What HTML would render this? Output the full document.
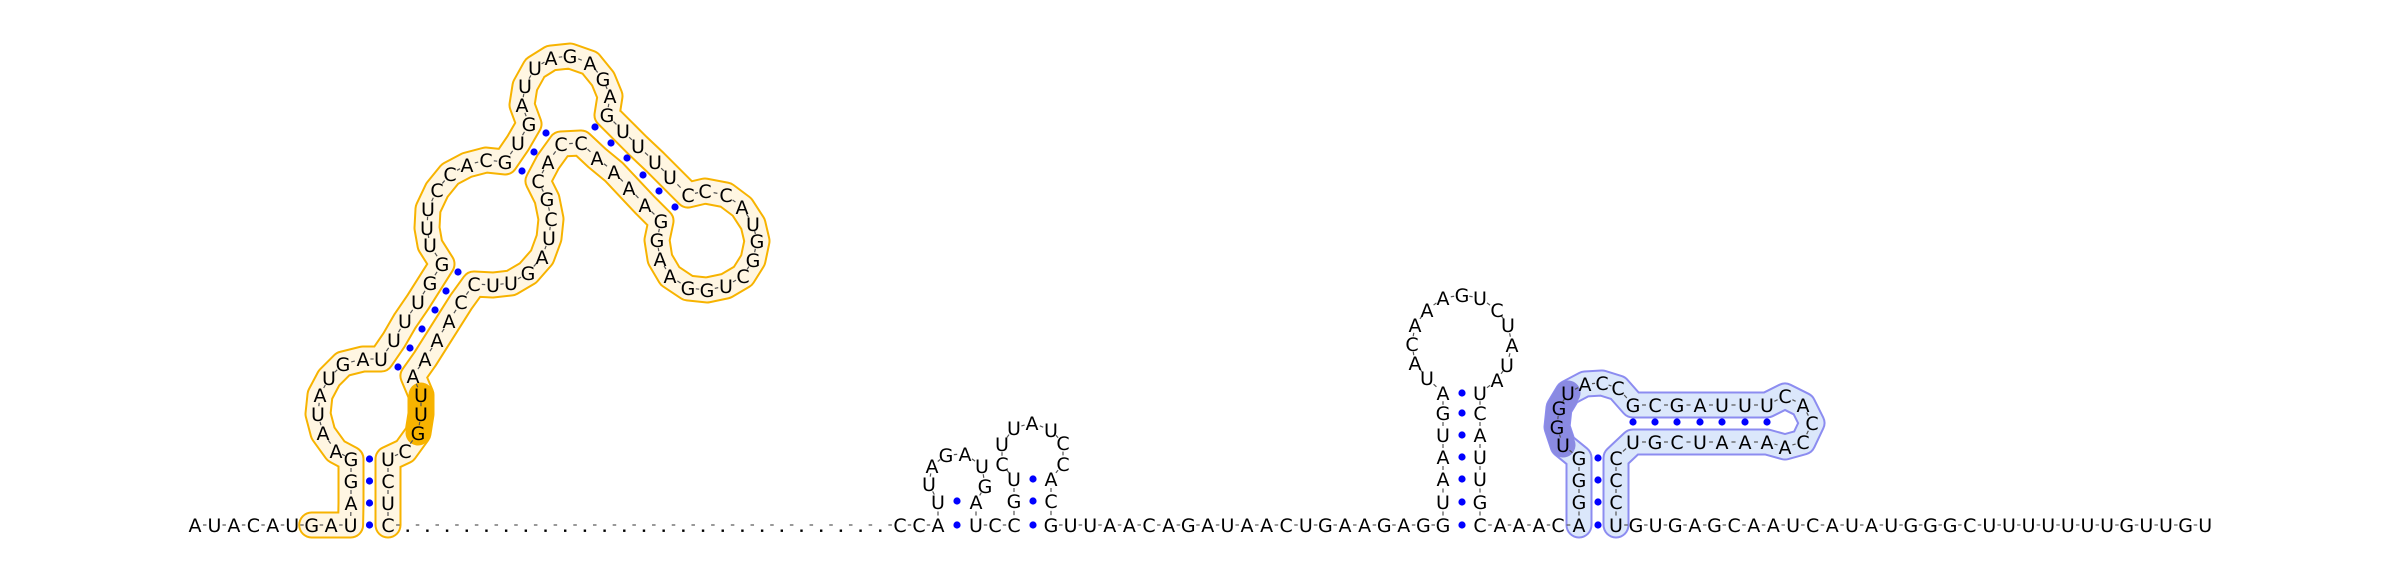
<!DOCTYPE html>
<html><head><meta charset="utf-8"><style>
html,body{margin:0;padding:0;background:#fff;}
svg{display:block;}
text{font-family:"DejaVu Sans","Liberation Sans",sans-serif;font-size:19px;fill:#000;}
</style></head><body>
<svg id="rna" width="2400" height="580" viewBox="0 0 2400 580" xmlns="http://www.w3.org/2000/svg">
<g id="tubes"></g>
<g id="backbone"></g>
<g id="pairs"></g>
<g id="bases"></g>
</svg>
<script>
const nts = [];
function add(c,x,y,t){ nts.push([c,x,y,t||'']); }
"AUACAUGAU".split('').forEach((c,i)=>add(c,195+19.45*i,525,i>=6?'o':''));
[['A',351,503],['G',351,481],['G',351,459],
 ['A',336,451],['A',323,433],['U',318,414],['A',320,395],['U',329,378],['G',343,364],['A',363,359],['U',381,359],
 ['U',394,340],['U',405,321],['U',418,302],['G',430,283],['G',442,264],
 ['U',430,245],['U',427,228],['U',428,209],['C',437,190],['C',450,174],['A',467,165],['C',486,160],
 ['G',505,162],['U',518,143],['G',529,124],
 ['A',522,105],['U',525,86],['U',535,68],['A',551,58],['G',570,56],['A',590,63],['G',603,79],['A',610,96],
 ['G',607,115],['U',623,131],['U',638,146],['U',655,162],['U',670,177],['C',688,195],
 ['C',705,191],['C',726,195],['A',742,207],['U',753,224],['G',757,241],['G',753,260],['C',743,276],['U',726,286],['G',707,290],['G',688,288],['A',670,276],['A',660,259],['G',657,240],
 ['G',661,221],['A',645,205],['A',629,188],['A',614,172],['A',597,158],['C',581,143],
 ['C',561,144],['A',548,162],['C',538,181],
 ['G',547,199],['C',551,219],['U',549,238],['A',542,257],['G',528,273],['U',511,283],['U',493,285],
 ['C',474,284],['C',461,302],['A',449,321],['A',437,340],['A',425,359],['A',413,376],
 ['U',421,395],['U',421,414],['G',418,433],['C',405,451],
 ['U',388,459],['C',388,481],['U',388,503],['C',388,525]].forEach(a=>add(a[0],a[1],a[2],'o'));
for(let k=1;k<=25;k++) add('.',388+19.69*k,525,'');
[['C',900,525],['C',919,525],['A',938,525],
 ['U',938,502],['U',929,484],['A',932,466],['G',946,455],['A',965,454],['U',982,466],['G',985,486],['A',976,502],
 ['U',976,525],['C',995,525],['C',1014,525],
 ['G',1014,501],['U',1014,479],['C',1002,464],['U',1002,444],['U',1014,428],['A',1032,423],['U',1051,430],['C',1063,443],['C',1063,464],['A',1051,479],['C',1051,501]].forEach(a=>add(a[0],a[1],a[2]));
"GUUAACAGAUAACUGAAGAGG".split('').forEach((c,i)=>add(c,1051+19.6*i,525));
[['U',1443,502],['A',1443,479],['A',1443,457],['U',1443,435],['G',1443,413],['A',1443,393],
 ['U',1427,378],['A',1415,363],['C',1412,344],['A',1415,325],['A',1427,310],['A',1443,298],['G',1462,295],['U',1480,298],['C',1497,310],['U',1508,325],['A',1512,345],['U',1507,365],['A',1497,380],
 ['U',1480,393],['C',1480,413],['A',1480,435],['U',1480,457],['U',1480,479],['G',1480,502],['C',1480,525],
 ['A',1500,525],['A',1519,525],['A',1539,525],['C',1558,525]].forEach(a=>add(a[0],a[1],a[2]));
[['A',1579,525],['G',1579,502],['G',1579,480],['G',1579,458],
 ['U',1563,445],['G',1557,427],['G',1559,408],['U',1568,393],['A',1585,384],['C',1602,383],['C',1618,388],
 ['G',1633,405],['C',1655,405],['G',1677,405],['A',1700,405],['U',1722,405],['U',1745,405],['U',1767,405],
 ['C',1785,396],['A',1803,405],['C',1812,423],['C',1803,442],['A',1785,447],
 ['A',1767,442],['A',1745,442],['A',1722,442],['U',1700,442],['C',1677,442],['G',1655,442],['U',1633,442],
 ['C',1616,458],['C',1616,480],['C',1616,502],['U',1616,525]].forEach(a=>add(a[0],a[1],a[2],'b'));
"GUGAGCAAUCAUAUGGGCUUUUUUUGUUGU".split('').forEach((c,i)=>add(c,1636+19.63*i,525));

const pairDots = [
 [369.5,525],[369.5,503],[369.5,481],[369.5,459],
 [398,367],[410,348],[422,329],[435,310],[446,291],[458,272],
 [522,171],[534,152],[546,133],
 [595,127],[611,143],[627,158],[643,175],[659,191],[675,207],
 [957,525],[957,501],[1033,525],[1033,501],[1033,479],
 [1462,525],[1462,502],[1462,479],[1462,457],[1462,435],[1462,413],[1462,393],
 [1598,525],[1598,502],[1598,480],[1598,458],
 [1633,422],[1655,422],[1677,422],[1700,422],[1722,422],[1745,422],[1767,422]];

const NS='http://www.w3.org/2000/svg';
const tubes=document.getElementById('tubes'), bb=document.getElementById('backbone'),
      pg=document.getElementById('pairs'), bg=document.getElementById('bases');

function tube(tag, stroke, fill, name){
  const pts=nts.filter(n=>n[3]===tag).map(n=>n[1].toFixed(1)+','+n[2].toFixed(1)).join(' ');
  const o=document.createElementNS(NS,'polyline');
  o.setAttribute('points',pts);o.setAttribute('fill','none');o.setAttribute('stroke',stroke);
  o.setAttribute('stroke-width','27');o.setAttribute('stroke-linejoin','round');o.setAttribute('stroke-linecap','round');
  
  
  tubes.appendChild(o);
  const i=document.createElementNS(NS,'polyline');
  i.setAttribute('points',pts);i.setAttribute('fill','none');i.setAttribute('stroke',fill);
  i.setAttribute('stroke-width','23');i.setAttribute('stroke-linejoin','round');i.setAttribute('stroke-linecap','round');
  
  
  tubes.appendChild(i);
}
tube('o','#f7b300','#fff6e2','orange-domain');
tube('b','#8c8cf0','#dbe7fb','blue-domain');
function blob(pts,color,name){
  const p=document.createElementNS(NS,'polyline');
  p.setAttribute('points',pts);p.setAttribute('fill','none');p.setAttribute('stroke',color);
  p.setAttribute('stroke-width','25');p.setAttribute('stroke-linejoin','round');p.setAttribute('stroke-linecap','round');
  
  
  tubes.appendChild(p);
}
blob('421,395 421,414 418,433','#f7b300','uug-highlight');
blob('1563,445 1557,427 1559,408 1568,393','#8a8ae2','uggu-highlight');

for(let i=0;i<nts.length-1;i++){
  const a=nts[i],b=nts[i+1];
  const dx=b[1]-a[1],dy=b[2]-a[2];
  const l=document.createElementNS(NS,'line');
  l.setAttribute('x1',a[1]+dx*0.41);l.setAttribute('y1',a[2]+dy*0.41);
  l.setAttribute('x2',a[1]+dx*0.59);l.setAttribute('y2',a[2]+dy*0.59);
  l.setAttribute('stroke','#555');l.setAttribute('stroke-width','1.2');
  
  
  bb.appendChild(l);
}
pairDots.forEach(d=>{
  const c=document.createElementNS(NS,'circle');
  c.setAttribute('cx',d[0]);c.setAttribute('cy',d[1]);c.setAttribute('r','3.6');c.setAttribute('fill','#0000ff');
  
  
  pg.appendChild(c);
});
nts.forEach(n=>{
  if(n[0]==='.'){
    const r=document.createElementNS(NS,'rect');
    r.setAttribute('x',n[1]-1.2);r.setAttribute('y',n[2]+4.5);r.setAttribute('width','2.4');r.setAttribute('height','2.4');r.setAttribute('fill','#000');
    
    
    bg.appendChild(r);
    return;
  }
  const t=document.createElementNS(NS,'text');
  t.setAttribute('x',n[1]);t.setAttribute('y',n[2]+7);t.setAttribute('text-anchor','middle');
  t.textContent=n[0];
  
  
  bg.appendChild(t);
});
</script>
</body></html>
